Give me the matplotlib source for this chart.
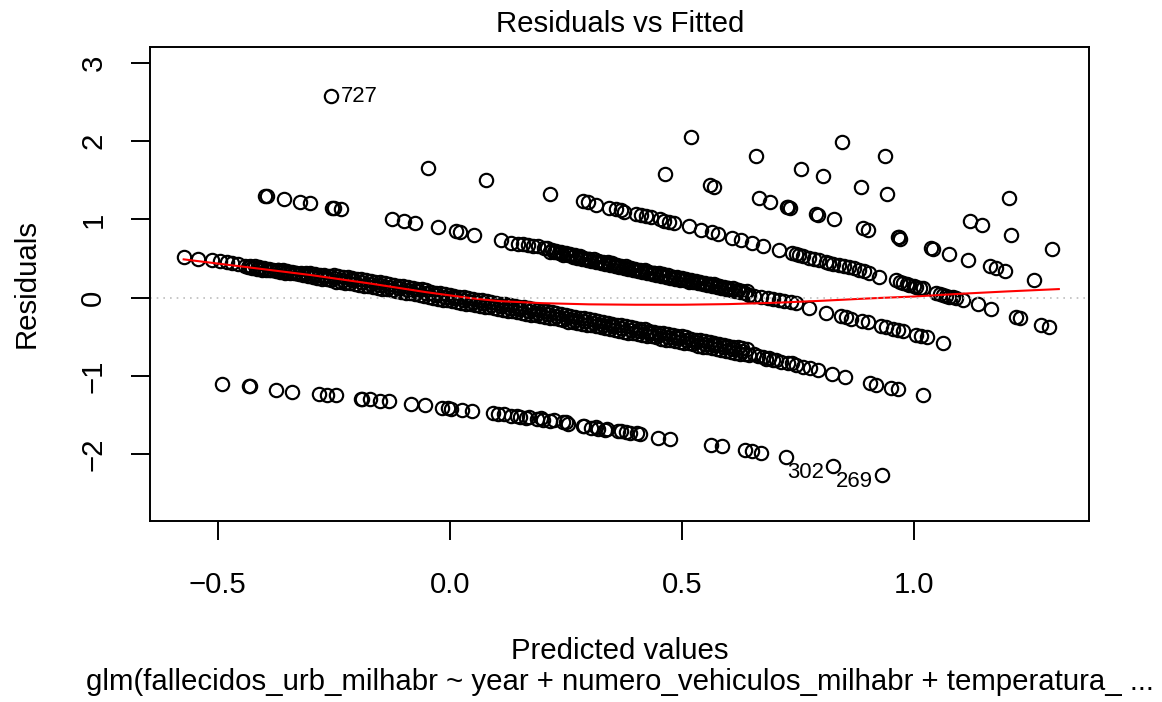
import numpy as np
import matplotlib.pyplot as plt

plt.rcParams['font.family'] = ['Liberation Sans', 'DejaVu Sans']

# lowest band of residuals
lower_fit = [-0.491, -0.432, -0.430, -0.374, -0.340, -0.282, -0.265, -0.245, -0.191, -0.188,
             -0.171, -0.151, -0.131, -0.084, -0.054, -0.017, -0.003, 0.003, 0.027, 0.047,
             0.093, 0.103, 0.116, 0.133, 0.146, 0.151, 0.165, 0.171, 0.187, 0.196,
             0.201, 0.215, 0.225, 0.244, 0.250, 0.255, 0.287, 0.290, 0.305, 0.315,
             0.319, 0.334, 0.339, 0.362, 0.369, 0.380, 0.389, 0.404, 0.410, 0.448,
             0.475, 0.562, 0.587, 0.636, 0.651, 0.671, 0.725]
lower_res = [-1.10, -1.135, -1.13, -1.185, -1.20, -1.23, -1.24, -1.25, -1.295, -1.29,
             -1.30, -1.315, -1.325, -1.36, -1.37, -1.415, -1.41, -1.42, -1.435, -1.45,
             -1.48, -1.49, -1.49, -1.51, -1.51, -1.53, -1.54, -1.53, -1.55, -1.54,
             -1.56, -1.57, -1.56, -1.59, -1.585, -1.61, -1.645, -1.64, -1.665, -1.655,
             -1.68, -1.69, -1.68, -1.71, -1.71, -1.72, -1.725, -1.73, -1.74, -1.79,
             -1.805, -1.88, -1.90, -1.95, -1.96, -1.98, -2.04]

# main (densest) band
main_head_fit = [-0.573, -0.543, -0.512, -0.495, -0.480, -0.468, -0.455]
main_head_res = [0.52, 0.50, 0.477, 0.465, 0.455, 0.445, 0.43]

main_a_fit = [-0.44, -0.43, -0.42, -0.41, -0.40, -0.39, -0.38, -0.37, -0.36, -0.35,
              -0.34, -0.33, -0.32, -0.31, -0.30, -0.29, -0.28, -0.27, -0.26, -0.25,
              -0.24, -0.23, -0.22, -0.21, -0.20, -0.19, -0.18, -0.17, -0.16, -0.15,
              -0.14, -0.13, -0.12, -0.11, -0.10, -0.09, -0.08, -0.07, -0.06, -0.05,
              -0.04, -0.03, -0.02, -0.01, 0.00, 0.01, 0.02, 0.03, 0.04, 0.05,
              0.06, 0.07, 0.08, 0.09, 0.10, 0.11, 0.12, 0.13, 0.14, 0.15,
              0.16, 0.17, 0.18, 0.19, 0.20, 0.21, 0.22, 0.23, 0.24, 0.25,
              0.26, 0.27, 0.28, 0.29, 0.30, 0.31, 0.32, 0.33, 0.34, 0.35,
              0.36, 0.37, 0.38, 0.39, 0.40, 0.41, 0.42, 0.43, 0.44, 0.45,
              0.46, 0.47, 0.48, 0.49, 0.50, 0.51, 0.52, 0.53, 0.54, 0.55,
              0.56, 0.57, 0.58, 0.59, 0.60, 0.61, 0.62, 0.63, 0.64]
main_a_res = [0.41, 0.40, 0.40, 0.39, 0.38, 0.37, 0.36, 0.36, 0.35, 0.34,
              0.33, 0.32, 0.32, 0.31, 0.31, 0.30, 0.29, 0.29, 0.28, 0.285,
              0.275, 0.265, 0.265, 0.255, 0.245, 0.235, 0.225, 0.215, 0.205, 0.195,
              0.185, 0.175, 0.165, 0.155, 0.145, 0.135, 0.125, 0.115, 0.105, 0.095,
              0.075, 0.065, 0.055, 0.045, 0.035, 0.025, 0.015, 0.005, -0.005, -0.015,
              -0.025, -0.035, -0.045, -0.055, -0.065, -0.075, -0.085, -0.095, -0.105, -0.115,
              -0.125, -0.135, -0.145, -0.155, -0.165, -0.175, -0.185, -0.195, -0.205, -0.225,
              -0.235, -0.245, -0.255, -0.265, -0.275, -0.285, -0.295, -0.305, -0.325, -0.335,
              -0.345, -0.355, -0.365, -0.375, -0.385, -0.395, -0.405, -0.425, -0.435, -0.445,
              -0.455, -0.465, -0.475, -0.485, -0.495, -0.505, -0.525, -0.535, -0.545, -0.555,
              -0.565, -0.575, -0.595, -0.605, -0.615, -0.625, -0.635, -0.645, -0.655]

main_b_fit = [-0.435, -0.425, -0.415, -0.405, -0.395, -0.385, -0.375, -0.365, -0.355, -0.345,
              -0.335, -0.325, -0.315, -0.305, -0.295, -0.285, -0.275, -0.265, -0.255, -0.245,
              -0.235, -0.225, -0.215, -0.205, -0.195, -0.185, -0.175, -0.165, -0.155, -0.145,
              -0.135, -0.125, -0.115, -0.105, -0.095, -0.085, -0.075, -0.065, -0.055, -0.045,
              -0.035, -0.025, -0.015, -0.005, 0.005, 0.015, 0.025, 0.035, 0.045, 0.055,
              0.065, 0.075, 0.085, 0.095, 0.105, 0.115, 0.125, 0.135, 0.145, 0.155,
              0.165, 0.175, 0.185, 0.195, 0.205, 0.215, 0.225, 0.235, 0.245, 0.255,
              0.265, 0.275, 0.285, 0.295, 0.305, 0.315, 0.325, 0.335, 0.345, 0.355,
              0.365, 0.375, 0.385, 0.395, 0.405, 0.415, 0.425, 0.435, 0.445, 0.455,
              0.465, 0.475, 0.485, 0.495, 0.505, 0.515, 0.525, 0.535, 0.545, 0.555,
              0.565, 0.575, 0.585, 0.595, 0.605, 0.615, 0.625, 0.635, 0.645]
main_b_res = [0.39, 0.38, 0.37, 0.36, 0.36, 0.35, 0.34, 0.33, 0.32, 0.32,
              0.31, 0.30, 0.29, 0.28, 0.26, 0.25, 0.245, 0.24, 0.23, 0.205,
              0.195, 0.19, 0.185, 0.175, 0.165, 0.155, 0.145, 0.135, 0.125, 0.115,
              0.105, 0.095, 0.085, 0.075, 0.065, 0.055, 0.045, 0.035, 0.02, 0.01,
              0.00, -0.015, -0.025, -0.035, -0.045, -0.055, -0.065, -0.075, -0.085, -0.095,
              -0.105, -0.115, -0.125, -0.135, -0.145, -0.155, -0.165, -0.175, -0.185, -0.195,
              -0.205, -0.215, -0.225, -0.235, -0.245, -0.255, -0.265, -0.275, -0.285, -0.305,
              -0.315, -0.325, -0.335, -0.345, -0.355, -0.365, -0.375, -0.385, -0.395, -0.415,
              -0.425, -0.435, -0.445, -0.455, -0.465, -0.475, -0.485, -0.495, -0.505, -0.525,
              -0.535, -0.545, -0.555, -0.565, -0.575, -0.585, -0.595, -0.615, -0.625, -0.635,
              -0.645, -0.655, -0.665, -0.675, -0.695, -0.705, -0.715, -0.725, -0.735]

main_c_fit = [-0.43, -0.41, -0.39, -0.37, -0.35, -0.33, -0.31, -0.29, -0.27, -0.25,
              -0.23, -0.21, -0.19, -0.17, -0.15, -0.13, -0.11, -0.09, -0.07, -0.05,
              -0.03, -0.01, 0.01, 0.03, 0.05, 0.07, 0.09, 0.11, 0.13, 0.15,
              0.17, 0.19, 0.21, 0.23, 0.25, 0.27, 0.29, 0.31, 0.33, 0.35,
              0.37, 0.39, 0.41, 0.43, 0.45, 0.47, 0.49, 0.51, 0.53, 0.55,
              0.57, 0.59, 0.61, 0.63]
main_c_res = [0.39, 0.38, 0.36, 0.35, 0.33, 0.31, 0.30, 0.28, 0.27, 0.25,
              0.23, 0.22, 0.20, 0.18, 0.16, 0.14, 0.12, 0.10, 0.08, 0.055,
              0.035, 0.01, -0.01, -0.03, -0.05, -0.07, -0.09, -0.11, -0.13, -0.15,
              -0.17, -0.19, -0.21, -0.23, -0.255, -0.28, -0.30, -0.32, -0.345, -0.365,
              -0.39, -0.41, -0.43, -0.455, -0.475, -0.50, -0.52, -0.54, -0.565, -0.59,
              -0.61, -0.635, -0.655, -0.68]

main_tail_fit = [0.655, 0.665, 0.674, 0.681, 0.688, 0.696, 0.703, 0.714, 0.728, 0.738,
                 0.746, 0.760, 0.775, 0.793, 0.824, 0.852, 0.905, 0.918, 0.950, 0.965, 1.019]
main_tail_res = [-0.72, -0.74, -0.76, -0.78, -0.77, -0.80, -0.79, -0.82, -0.84, -0.835,
                 -0.86, -0.88, -0.90, -0.92, -0.97, -1.01, -1.09, -1.11, -1.15, -1.17, -1.25]

# band above the main one
u1_head_fit = [-0.398, -0.394, -0.356, -0.323, -0.300, -0.253, -0.249, -0.234, -0.124, -0.099,
               -0.075, -0.026, 0.014, 0.023, 0.052, 0.111, 0.133, 0.147, 0.158, 0.169,
               0.179, 0.190, 0.203]
u1_head_res = [1.30, 1.305, 1.26, 1.22, 1.21, 1.15, 1.15, 1.13, 1.01, 0.98,
               0.96, 0.905, 0.85, 0.835, 0.805, 0.74, 0.705, 0.69, 0.68, 0.67,
               0.66, 0.655, 0.635]

u1_a_fit = [0.21, 0.22, 0.23, 0.24, 0.25, 0.26, 0.27, 0.28, 0.29, 0.30,
            0.31, 0.32, 0.33, 0.34, 0.35, 0.36, 0.37, 0.38, 0.39, 0.40,
            0.41, 0.42, 0.43, 0.44, 0.45, 0.46, 0.47, 0.48, 0.49, 0.50,
            0.51, 0.52, 0.53, 0.54, 0.55, 0.56, 0.57, 0.58, 0.59, 0.60,
            0.61, 0.62, 0.63, 0.64]
u1_a_res = [0.63, 0.61, 0.60, 0.58, 0.57, 0.56, 0.54, 0.53, 0.51, 0.50,
            0.49, 0.47, 0.46, 0.45, 0.44, 0.42, 0.41, 0.40, 0.38, 0.37,
            0.36, 0.35, 0.33, 0.32, 0.31, 0.30, 0.29, 0.27, 0.26, 0.25,
            0.24, 0.23, 0.21, 0.20, 0.19, 0.18, 0.17, 0.15, 0.14, 0.13,
            0.12, 0.10, 0.09, 0.08]

u1_b_fit = [0.215, 0.225, 0.235, 0.245, 0.255, 0.265, 0.275, 0.285, 0.295, 0.305,
            0.315, 0.325, 0.335, 0.345, 0.355, 0.365, 0.375, 0.385, 0.395, 0.405,
            0.415, 0.425, 0.435, 0.445, 0.455, 0.465, 0.475, 0.485, 0.495, 0.505,
            0.515, 0.525, 0.535, 0.545, 0.555, 0.565, 0.575, 0.585, 0.595, 0.605,
            0.615, 0.625, 0.635]
u1_b_res = [0.59, 0.58, 0.57, 0.55, 0.54, 0.52, 0.51, 0.50, 0.48, 0.47,
            0.455, 0.44, 0.43, 0.415, 0.40, 0.39, 0.38, 0.365, 0.35, 0.34,
            0.33, 0.315, 0.30, 0.29, 0.28, 0.27, 0.255, 0.245, 0.23, 0.22,
            0.205, 0.195, 0.185, 0.17, 0.16, 0.145, 0.135, 0.125, 0.11, 0.10,
            0.085, 0.07, 0.06]

u1_c_fit = [0.24, 0.26, 0.28, 0.30, 0.32, 0.34, 0.36, 0.38, 0.40, 0.42,
            0.44, 0.46, 0.48, 0.50, 0.52, 0.54, 0.56, 0.58, 0.60, 0.62]
u1_c_res = [0.57, 0.545, 0.52, 0.49, 0.465, 0.44, 0.41, 0.385, 0.36, 0.335,
            0.31, 0.29, 0.265, 0.24, 0.215, 0.19, 0.17, 0.145, 0.12, 0.095]

u1_tail_fit = [0.645, 0.656, 0.670, 0.685, 0.696, 0.710, 0.721, 0.735, 0.746, 0.774,
               0.811, 0.843, 0.853, 0.864, 0.889, 0.900, 0.929, 0.940, 0.955, 0.966,
               0.977, 1.005, 1.016, 1.027, 1.063]
u1_tail_res = [0.035, 0.02, 0.005, -0.01, -0.02, -0.03, -0.04, -0.06, -0.07, -0.135,
               -0.19, -0.24, -0.25, -0.27, -0.30, -0.315, -0.36, -0.375, -0.395, -0.41,
               -0.43, -0.475, -0.49, -0.505, -0.58]

# second band above
u2_fit = [-0.046, 0.079, 0.217, 0.287, 0.298, 0.316, 0.344, 0.359, 0.370, 0.376,
          0.401, 0.412, 0.423, 0.434, 0.452, 0.462, 0.473, 0.484, 0.515, 0.541,
          0.566, 0.577, 0.609, 0.627, 0.652, 0.674, 0.710, 0.738, 0.745, 0.753,
          0.760, 0.774, 0.785, 0.796, 0.810, 0.817, 0.825, 0.839, 0.850, 0.860,
          0.870, 0.882, 0.893, 0.903, 0.925, 0.961, 0.970, 0.976, 0.985, 0.990,
          1.000, 1.005, 1.012, 1.019, 1.047, 1.055, 1.062, 1.068, 1.076, 1.083,
          1.091, 1.105, 1.137, 1.165, 1.219, 1.229, 1.274, 1.290]
u2_res = [1.66, 1.50, 1.33, 1.23, 1.22, 1.19, 1.15, 1.13, 1.12, 1.10,
          1.07, 1.06, 1.05, 1.03, 1.00, 0.98, 0.97, 0.955, 0.91, 0.87,
          0.835, 0.82, 0.76, 0.74, 0.70, 0.665, 0.61, 0.57, 0.56, 0.55,
          0.535, 0.51, 0.50, 0.48, 0.455, 0.44, 0.43, 0.42, 0.40, 0.39,
          0.375, 0.36, 0.34, 0.32, 0.27, 0.23, 0.20, 0.19, 0.17, 0.16,
          0.15, 0.14, 0.13, 0.12, 0.06, 0.05, 0.035, 0.025, 0.015, 0.005,
          -0.005, -0.03, -0.08, -0.15, -0.25, -0.26, -0.345, -0.37]

# scattered points at the top right
upper_fit = [0.463, 0.520, 0.560, 0.570, 0.660, 0.667, 0.690, 0.727, 0.729, 0.732,
             0.757, 0.790, 0.793, 0.805, 0.827, 0.844, 0.886, 0.890, 0.900, 0.938,
             0.942, 0.965, 0.967, 0.969, 1.037, 1.041, 1.076, 1.116, 1.120, 1.146,
             1.163, 1.177, 1.197, 1.204, 1.210, 1.259, 1.298]
upper_res = [1.585, 2.05, 1.44, 1.415, 1.815, 1.27, 1.225, 1.16, 1.165, 1.15,
             1.65, 1.075, 1.06, 1.56, 1.00, 1.985, 1.42, 0.89, 0.87, 1.81,
             1.32, 0.78, 0.77, 0.755, 0.635, 0.625, 0.56, 0.485, 0.985, 0.93,
             0.40, 0.375, 0.345, 1.28, 0.805, 0.22, 0.625]

# flagged observations
id_labels = ['727', '302', '269']
id_fit = [-0.256, 0.826, 0.931]
id_res = [2.58, -2.15, -2.27]

# smoother through the residuals
smooth_fit = [-0.573, -0.45, -0.30, -0.17, -0.05, 0.05, 0.11, 0.20, 0.30, 0.40,
              0.50, 0.60, 0.70, 0.80, 0.90, 1.00, 1.10, 1.20, 1.312]
smooth_res = [0.49, 0.40, 0.29, 0.18, 0.07, -0.01, -0.045, -0.07, -0.085, -0.09,
              -0.09, -0.082, -0.065, -0.04, -0.01, 0.015, 0.05, 0.08, 0.11]

fitted = np.concatenate([lower_fit, main_head_fit, main_a_fit, main_b_fit, main_c_fit,
                         main_tail_fit, u1_head_fit, u1_a_fit, u1_b_fit, u1_c_fit,
                         u1_tail_fit, u2_fit, upper_fit, id_fit])
resid = np.concatenate([lower_res, main_head_res, main_a_res, main_b_res, main_c_res,
                        main_tail_res, u1_head_res, u1_a_res, u1_b_res, u1_c_res,
                        u1_tail_res, u2_res, upper_res, id_res])

W, H = 1162, 702
fig = plt.figure(figsize=(W / 100, H / 100), dpi=100)
ax = fig.add_axes([150 / W, 1 - 521 / H, 939 / W, 474 / H])

ax.plot(fitted, resid, linestyle='none', marker='o', markersize=9.6,
        markerfacecolor='none', markeredgecolor='black', markeredgewidth=1.55)
ax.plot(smooth_fit, smooth_res, color='#FF0000', lw=1.5)
ax.axhline(0, color='#BEBEBE', lw=1.2, linestyle=(0, (1, 3)))

for lab, fx, ry in zip(id_labels, id_fit, id_res):
    if fx < 0.37:
        ax.annotate(lab, (fx, ry), xytext=(7.5, -4.5), textcoords='offset points',
                    ha='left', va='baseline', fontsize=15.9)
    else:
        ax.annotate(lab, (fx, ry), xytext=(-6.5, -8.6), textcoords='offset points',
                    ha='right', va='baseline', fontsize=15.9)

ax.set_xlim(-0.6455, 1.377)
ax.set_ylim(-2.854, 3.204)
ax.set_xticks([-0.5, 0.0, 0.5, 1.0])
ax.set_xticklabels(['\u22120.5', '0.0', '0.5', '1.0'])
ax.set_yticks([-2, -1, 0, 1, 2, 3])
ax.set_yticklabels(['\u22122', '\u22121', '0', '1', '2', '3'], rotation=90, va='center')
ax.tick_params(axis='both', direction='out', length=13.7, width=1.4, labelsize=21.2)
ax.tick_params(axis='x', pad=22)
ax.tick_params(axis='y', pad=17)
for sp in ax.spines.values():
    sp.set_linewidth(1.4)

fig.text(620 / W, 1 - 32 / H, 'Residuals vs Fitted', ha='center', va='baseline', fontsize=21.2)
fig.text(620 / W, 1 - 659 / H, 'Predicted values', ha='center', va='baseline', fontsize=21.2)
fig.text(620 / W, 1 - 690 / H,
         'glm(fallecidos_urb_milhabr ~ year + numero_vehiculos_milhabr + temperatura_ ...',
         ha='center', va='baseline', fontsize=21.2)
fig.text(27 / W, 1 - 284 / H, 'Residuals', rotation=90, ha='center', va='center', fontsize=21.2)

fig.savefig('out.png', dpi=100)
